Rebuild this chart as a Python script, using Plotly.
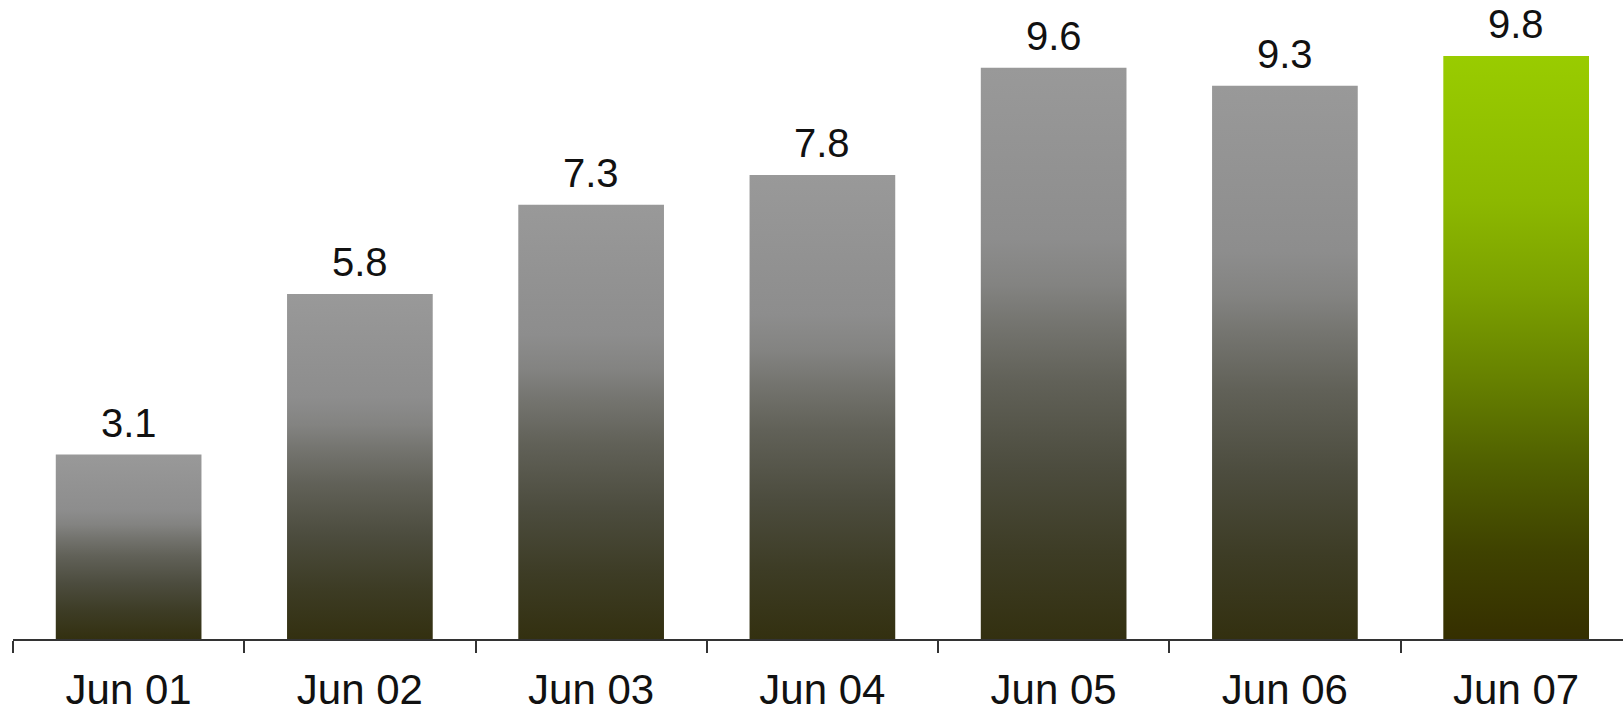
import plotly.graph_objects as go

categories = ["Jun 01", "Jun 02", "Jun 03", "Jun 04", "Jun 05", "Jun 06", "Jun 07"]
values = [3.1, 5.8, 7.3, 7.8, 9.6, 9.3, 9.8]
labels = ["3.1", "5.8", "7.3", "7.8", "9.6", "9.3", "9.8"]
highlight = [False, False, False, False, False, False, True]

gray_scale = [[0.0, "#333010"], [0.15, "#3d3c25"], [0.3, "#4c4c3e"], [0.45, "#616158"],
              [0.55, "#74746f"], [0.62, "#838381"], [0.7, "#8d8d8d"], [1.0, "#999999"]]
green_scale = [[0.0, "#352f00"], [0.15, "#3f4200"], [0.3, "#506000"], [0.45, "#678200"],
               [0.6, "#7ca100"], [0.75, "#8cb800"], [1.0, "#99cc00"]]

BAR_W = 0.63
FONT = "Liberation Sans"

fig = go.Figure()
for i, (v, hl) in enumerate(zip(values, highlight)):
    x0, x1 = i - BAR_W / 2, i + BAR_W / 2
    fig.add_trace(go.Scatter(
        x=[x0, x1, x1, x0, x0], y=[0, 0, v, v, 0],
        mode="lines", line=dict(width=0), fill="toself",
        fillgradient=dict(type="vertical", colorscale=green_scale if hl else gray_scale),
        hoverinfo="skip", showlegend=False))

for i, (v, t) in enumerate(zip(values, labels)):
    fig.add_annotation(x=i, y=v, text=t, showarrow=False, yanchor="bottom", yshift=8,
                       font=dict(family=FONT, size=40, color="#111111"))

fig.update_layout(
    width=1623, height=718,
    margin=dict(l=13, r=0, t=0, b=79),
    paper_bgcolor="white", plot_bgcolor="white",
    xaxis=dict(range=[-0.5, 6.462], tickvals=list(range(len(categories))), ticktext=categories,
               ticks="", showgrid=False, zeroline=False, showline=True, linecolor="#333333",
               linewidth=1.5, tickfont=dict(family=FONT, size=42, color="#111111"),
               ticklabelstandoff=13, automargin=False,
               minor=dict(tick0=-0.5, dtick=1, ticks="outside", ticklen=12, tickcolor="#333333",
                          tickwidth=1.5, showgrid=False)),
    yaxis=dict(range=[0, 10.74], visible=False, showgrid=False, zeroline=False, automargin=False),
)

fig.write_html("out.html")
